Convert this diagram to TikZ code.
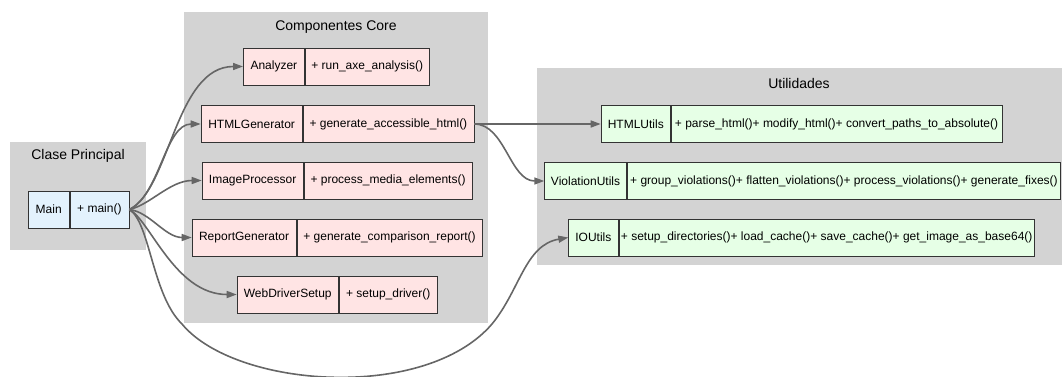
\documentclass[tikz,border=0pt]{standalone}
\usepackage{fontspec}
\setmainfont{Liberation Sans}
\usetikzlibrary{positioning,arrows.meta}

\definecolor{mainfill}{HTML}{E3F2FD}
\definecolor{corefill}{HTML}{FFE4E4}
\definecolor{utilfill}{HTML}{E6FFE6}
\definecolor{edgegray}{HTML}{666666}
\definecolor{clustergray}{HTML}{D3D3D3}

\tikzset{
  cls/.style={draw=black!80, line width=0.8pt, minimum height=37pt, inner xsep=1pt, inner ysep=0pt, font=\fontsize{12}{14}\selectfont},
  mainCls/.style={cls, fill=mainfill},
  coreCls/.style={cls, fill=corefill},
  utilCls/.style={cls, fill=utilfill},
  clusterTitle/.style={inner sep=0pt, font=\fontsize{14}{16}\selectfont},
  link/.style={draw=edgegray, line width=1.6pt, -{Triangle[length=10pt,width=7pt]}},
}

\begin{document}
\begin{tikzpicture}[x=1pt,y=-1pt]
            \useasboundingbox (0,0) rectangle (1062,376);

            % grupos
            \fill[clustergray] (10,142) rectangle (146,250);
            \fill[clustergray] (184,12) rectangle (488,323);
            \fill[clustergray] (537,68) rectangle (1062,265);

            \node[clusterTitle] (tMain) at (78,156) {Clase Principal};
            \node[clusterTitle] (tCore) at (336,27) {Componentes Core};
            \node[clusterTitle] (tUtil) at (799,83) {Utilidades};

            % clase principal
            \node[mainCls, anchor=west, minimum width=40.7pt] (main) at (28,209.5) {Main};
            \node[mainCls, right=0pt of main, minimum width=59pt] (mainM) {+ main()};

            % componentes core
            \node[coreCls, anchor=west, minimum width=61pt] (analyzer) at (243,66.5) {Analyzer};
            \node[coreCls, right=0pt of analyzer, minimum width=124pt] (analyzerM) {+ run\_axe\_analysis()};

            \node[coreCls, anchor=west, minimum width=101pt] (htmlgen) at (200.7,124) {HTMLGenerator};
            \node[coreCls, right=0pt of htmlgen, minimum width=171pt] (htmlgenM) {+ generate\_accessible\_html()};

            \node[coreCls, anchor=west, minimum width=101pt] (imgproc) at (201.7,180.5) {ImageProcessor};
            \node[coreCls, right=0pt of imgproc, minimum width=168.3pt] (imgprocM) {+ process\_media\_elements()};

            \node[coreCls, anchor=west, minimum width=104pt] (report) at (191.7,237.5) {ReportGenerator};
            \node[coreCls, right=0pt of report, minimum width=185.3pt] (reportM) {+ generate\_comparison\_report()};

            \node[coreCls, anchor=west, minimum width=101.3pt] (webdriver) at (236.7,294.5) {WebDriverSetup};
            \node[coreCls, right=0pt of webdriver, minimum width=98pt] (webdriverM) {+ setup\_driver()};

            % utilidades
            \node[utilCls, anchor=west, minimum width=69.3pt] (htmlutils) at (600.7,124) {HTMLUtils};
            \node[utilCls, right=0pt of htmlutils, minimum width=330.7pt] (htmlutilsM) {+ parse\_html()+ modify\_html()+ convert\_paths\_to\_absolute()};

            \node[utilCls, anchor=west, minimum width=81.7pt] (violation) at (544.3,181) {ViolationUtils};
            \node[utilCls, right=0pt of violation, inner xsep=3pt] (violationM) {+ group\_violations()+ flatten\_violations()+ process\_violations()+ generate\_fixes()};

            \node[utilCls, anchor=west, minimum width=49.4pt] (ioutils) at (568.3,237.5) {IOUtils};
            \node[utilCls, right=0pt of ioutils, minimum width=415.6pt] (ioutilsM) {+ setup\_directories()+ load\_cache()+ save\_cache()+ get\_image\_as\_base64()};

            % dependencias
            \draw[link] (mainM.east) .. controls (170,190) and (175,66.5) .. (analyzer.west);
            \draw[link] (mainM.east) .. controls (160,195) and (165,124) .. (htmlgen.west);
            \draw[link] (mainM.east) .. controls (150,205) and (170,180.5) .. (imgproc.west);
            \draw[link] (mainM.east) .. controls (150,212) and (165,237.5) .. (report.west);
            \draw[link] (mainM.east) .. controls (150,220) and (175,294.5) .. (webdriver.west);

            \coordinate (dipL) at (182,324);
            \coordinate (dipR) at (492,324);
            \draw[link] (mainM.east) .. controls (150,222) and (152,295) .. (dipL)
                .. controls (235,388) and (425,402) .. (dipR)
                .. controls (520,290) and (525,245) .. (ioutils.west);

            \draw[link] (htmlgenM.east) -- (htmlutils.west);
            \draw[link] (htmlgenM.east) .. controls (505,124) and (510,181) .. (violation.west);
        \end{tikzpicture}
\end{document}
